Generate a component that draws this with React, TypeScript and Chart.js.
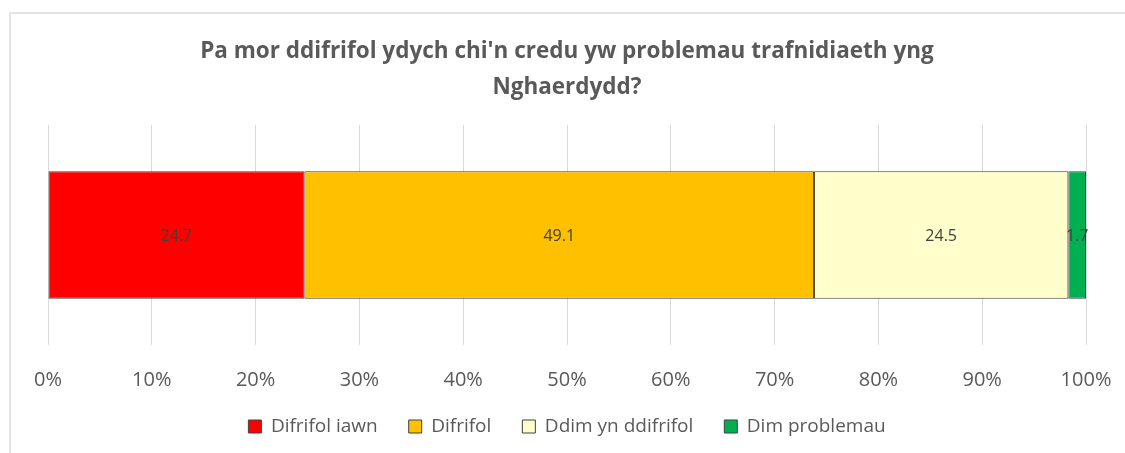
import React, { useEffect, useRef } from "react";
import { Chart, registerables } from "chart.js";

Chart.register(...registerables);

const categories = ["Caerdydd"];
const seriesNames = ["Difrifol iawn", "Difrifol", "Ddim yn ddifrifol", "Dim problemau"];
const difrifolIawn = [24.7];
const difrifol = [49.1];
const ddimYnDdifrifol = [24.5];
const dimProblemau = [1.7];
const seriesColors = ["#FF0000", "#FFC000", "#FFFFCC", "#00B050"];
const titleLines = ["Pa mor ddifrifol ydych chi'n credu yw problemau trafnidiaeth yng", "Nghaerdydd?"];
const xTicks = [0, 10, 20, 30, 40, 50, 60, 70, 80, 90, 100];

const FONT = "'Open Sans', 'DejaVu Sans', sans-serif";

const dataLabelPlugin = {
  id: "dataLabels",
  afterDatasetsDraw(chart: any) {
    const ctx = chart.ctx;
    ctx.save();
    ctx.font = `16px ${FONT}`;
    ctx.fillStyle = "#404040";
    ctx.textAlign = "center";
    ctx.textBaseline = "middle";
    chart.data.datasets.forEach((ds: any, i: number) => {
      const meta = chart.getDatasetMeta(i);
      meta.data.forEach((el: any, j: number) => {
        const p = el.getCenterPoint();
        ctx.fillText(String(ds.data[j]), p.x, p.y + 1);
      });
    });
    ctx.restore();
  },
};

export default function App() {
  const ref = useRef<HTMLCanvasElement | null>(null);
  useEffect(() => {
    if (!ref.current) return;
    const values = [difrifolIawn, difrifol, ddimYnDdifrifol, dimProblemau];
    const chart = new Chart(ref.current, {
      type: "bar",
      data: {
        labels: categories,
        datasets: seriesNames.map((name, i) => ({
          label: name,
          data: values[i],
          backgroundColor: seriesColors[i],
          borderColor: "#404040",
          borderWidth: 1,
          borderSkipped: false,
          categoryPercentage: 0.58,
          barPercentage: 1,
        })),
      },
      options: {
        indexAxis: "y",
        responsive: false,
        animation: false,
        layout: { padding: { left: 48, right: 39, top: 0, bottom: 7 } },
        scales: {
          x: {
            stacked: true,
            min: 0,
            max: 100,
            afterBuildTicks: (axis: any) => {
              axis.ticks = xTicks.map((v) => ({ value: v }));
            },
            afterFit: (axis: any) => {
              axis.paddingLeft = 0;
              axis.paddingRight = 0;
              axis.height = 41;
            },
            grid: { color: "#D9D9D9", drawTicks: false, lineWidth: 1 },
            border: { display: false },
            ticks: {
              padding: 23,
              color: "#595959",
              font: { family: FONT, size: 20 },
              callback: (v: any) => v + "%",
            },
          },
          y: {
            stacked: true,
            display: false,
          },
        },
        plugins: {
          title: {
            display: true,
            text: titleLines,
            color: "#595959",
            font: { family: FONT, size: 22.5, weight: "bold", lineHeight: 1.6 },
            padding: { top: 34, bottom: 19 },
          },
          legend: {
            position: "bottom",
            labels: {
              color: "#595959",
              font: { family: FONT, size: 19 },
              boxWidth: 13,
              boxHeight: 13,
              padding: 31,
            },
          },
          tooltip: { enabled: false },
        },
      },
      plugins: [dataLabelPlugin],
    });
    return () => chart.destroy();
  }, []);
  return (
    <div style={{ position: "absolute", left: 0, top: 0, width: 1125, height: 453, background: "#fff", overflow: "hidden" }}>
      <div style={{ position: "absolute", left: 9, top: 12, width: 1125, height: 453, borderLeft: "2px solid #E3E3E3", borderTop: "2px solid #E3E3E3" }} />
      <canvas ref={ref} width={1125} height={453} style={{ position: "absolute", left: 0, top: 0 }} />
    </div>
  );
}
